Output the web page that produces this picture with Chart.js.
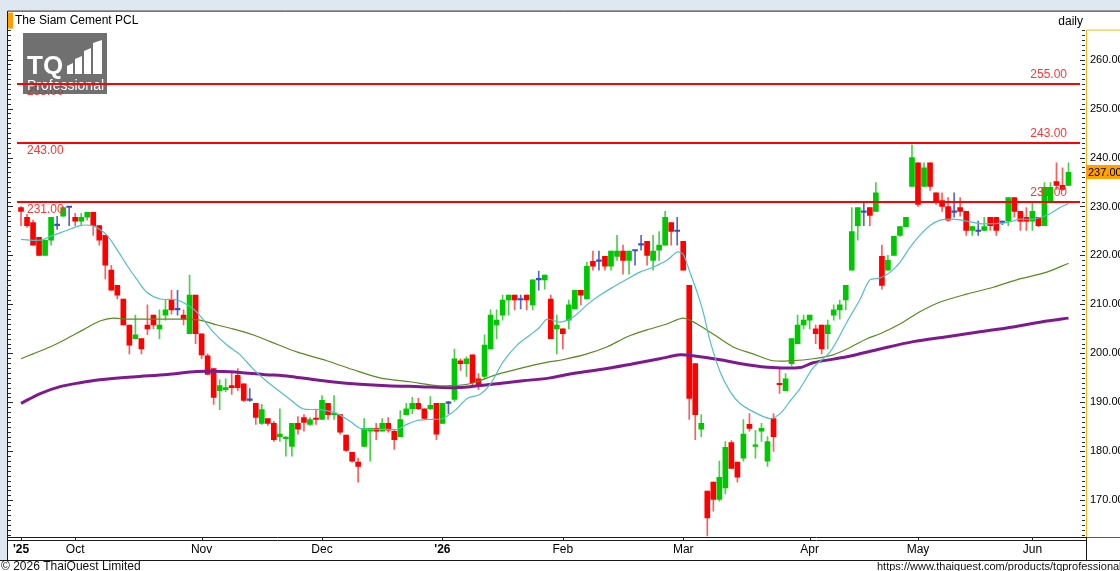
<!DOCTYPE html>
<html>
<head>
<meta charset="utf-8">
<title>The Siam Cement PCL</title>
<script src="https://cdn.jsdelivr.net/npm/chart.js@4.4.1/dist/chart.umd.min.js"></script>
<style>
  html, body { margin: 0; padding: 0; background: #fff; overflow: hidden; }
  #box { width: 1120px; height: 571px; }
  canvas { display: block; }
</style>
</head>
<body>
<div id="box"><canvas id="priceChart" width="1120" height="571"></canvas></div>
<script>
// daily candles, one entry per trading day (index 0 = first bar on the left)
const opens = [
  229.8, 227.8, 226.7, 223.7, 220.0, 223.1, 226.1, 228.0, 229.8, 227.8,
  227.0, 227.8, 228.8, 226.1, 224.1, 217.0, 213.9, 211.1, 205.8, 203.0,
  203.0, 205.8, 207.8, 205.0, 207.8, 210.9, 208.9, 207.8, 204.0, 211.9,
  204.0, 199.5, 196.9, 192.4, 192.6, 193.4, 195.5, 193.8, 190.4, 189.8,
  185.7, 186.7, 185.7, 183.0, 182.6, 181.0, 185.7, 186.9, 185.5, 186.7,
  186.5, 189.8, 187.5, 187.5, 183.3, 179.8, 177.8, 181.0, 184.1, 184.7,
  184.1, 185.7, 184.1, 183.0, 187.5, 188.7, 189.8, 188.7, 188.7, 189.8,
  185.7, 189.8, 190.6, 198.5, 197.9, 199.7, 194.8, 195.3, 200.9, 205.8,
  207.8, 210.9, 211.9, 210.9, 211.9, 209.9, 215.0, 215.0, 211.1, 205.0,
  205.0, 206.8, 209.1, 212.9, 211.1, 218.8, 218.8, 219.8, 217.8, 219.8,
  220.9, 219.0, 220.9, 222.1, 222.9, 219.0, 221.1, 222.1, 226.7, 224.9,
  222.9, 213.9, 197.9, 184.5, 171.9, 173.7, 170.2, 172.5, 181.8, 177.8,
  178.6, 185.5, 181.0, 184.1, 178.0, 186.7, 193.8, 192.4, 197.9, 202.0,
  205.8, 206.8, 205.0, 205.8, 204.0, 207.8, 208.9, 210.9, 217.0, 226.1,
  228.8, 229.8, 229.0, 219.8, 217.0, 220.0, 224.1, 225.9, 234.1, 238.9,
  234.1, 238.9, 232.8, 231.2, 230.0, 228.8, 229.8, 229.0, 225.1, 224.9,
  225.1, 227.8, 227.8, 226.7, 227.0, 231.8, 229.0, 227.8, 227.0, 227.8,
  226.1, 231.2, 235.1, 234.3, 234.3
];
const highs = [
  230.0, 228.4, 227.2, 223.7, 223.1, 227.8, 228.0, 230.0, 230.0, 228.6,
  228.6, 228.8, 228.8, 226.1, 224.1, 218.0, 213.9, 211.1, 205.8, 207.8,
  203.0, 209.9, 207.8, 208.9, 210.9, 212.9, 212.9, 208.9, 216.0, 211.9,
  204.0, 199.9, 196.9, 194.6, 194.8, 195.9, 196.9, 193.8, 192.8, 189.8,
  189.6, 186.7, 186.1, 188.7, 183.0, 185.7, 187.1, 187.5, 186.9, 188.5,
  191.4, 189.8, 191.4, 187.5, 183.3, 179.8, 178.6, 186.7, 184.7, 185.7,
  186.7, 186.9, 184.5, 188.3, 189.8, 191.0, 190.8, 188.7, 191.2, 189.8,
  189.8, 190.2, 200.9, 198.9, 199.3, 199.7, 195.9, 203.8, 208.9, 208.9,
  211.9, 211.9, 211.9, 211.9, 211.9, 215.0, 216.8, 216.0, 211.9, 207.8,
  205.0, 210.9, 212.9, 212.9, 218.6, 220.9, 220.9, 219.8, 220.9, 224.1,
  222.1, 220.9, 220.9, 224.1, 222.9, 224.1, 224.9, 229.0, 226.7, 227.8,
  222.9, 213.9, 197.9, 187.5, 171.9, 173.7, 178.0, 182.0, 182.2, 177.8,
  186.5, 187.7, 184.3, 185.7, 183.0, 187.7, 196.9, 195.9, 203.0, 207.8,
  207.8, 207.8, 205.8, 205.8, 206.8, 209.9, 210.9, 213.9, 229.8, 229.8,
  230.8, 229.8, 234.9, 222.1, 220.0, 223.9, 225.9, 227.8, 242.6, 238.9,
  238.9, 238.9, 232.8, 232.8, 231.8, 232.8, 231.8, 229.0, 225.9, 227.0,
  227.8, 227.8, 227.8, 227.0, 231.8, 231.8, 229.0, 229.8, 230.8, 227.8,
  234.9, 234.9, 238.9, 237.9, 238.9
];
const lows = [
  226.1, 225.7, 222.1, 220.0, 220.0, 222.1, 225.3, 228.0, 226.1, 226.1,
  226.1, 227.2, 224.1, 222.1, 215.2, 212.9, 211.1, 205.8, 199.9, 203.0,
  199.9, 203.8, 205.0, 203.0, 206.8, 208.0, 207.8, 205.8, 204.0, 202.0,
  198.9, 195.7, 189.6, 188.5, 192.2, 191.6, 192.4, 190.2, 190.2, 185.5,
  185.5, 185.3, 182.0, 182.0, 179.0, 179.0, 183.5, 184.1, 185.3, 185.5,
  186.5, 186.5, 186.5, 183.5, 180.0, 177.8, 173.7, 181.0, 178.0, 182.4,
  184.1, 183.9, 180.4, 183.0, 187.5, 187.7, 188.5, 186.5, 188.5, 182.4,
  185.7, 187.7, 190.2, 196.5, 195.3, 193.4, 192.6, 194.8, 200.9, 203.0,
  206.8, 207.8, 208.9, 209.1, 208.9, 208.9, 212.9, 213.1, 203.0, 199.9,
  200.9, 205.0, 209.1, 209.9, 211.1, 217.0, 217.0, 217.0, 217.0, 219.0,
  216.2, 216.2, 218.0, 221.1, 218.0, 217.0, 219.0, 222.1, 222.1, 222.1,
  217.0, 186.5, 182.4, 183.0, 162.7, 167.8, 169.8, 171.3, 176.5, 173.7,
  178.0, 184.1, 178.6, 182.0, 176.9, 180.0, 191.8, 192.4, 197.5, 202.0,
  205.0, 205.0, 202.0, 199.9, 200.9, 206.8, 207.0, 208.9, 217.0, 223.1,
  226.1, 226.1, 229.0, 213.1, 217.0, 220.0, 223.9, 225.9, 234.1, 230.0,
  234.1, 233.3, 230.4, 229.0, 227.0, 227.8, 228.0, 224.1, 224.1, 224.1,
  225.1, 225.1, 224.1, 226.3, 226.1, 227.8, 225.1, 225.1, 225.1, 225.9,
  226.1, 231.2, 233.5, 233.3, 234.3
];
const closes = [
  229.0, 226.1, 222.1, 220.0, 223.1, 227.8, 226.1, 229.8, 229.8, 227.0,
  227.8, 228.8, 226.1, 223.1, 218.0, 212.9, 211.9, 205.8, 201.7, 203.8,
  200.9, 205.0, 205.8, 205.8, 208.9, 208.9, 208.9, 207.0, 211.9, 204.0,
  199.7, 195.7, 191.0, 193.4, 193.0, 193.0, 193.0, 190.4, 190.4, 186.9,
  188.5, 185.7, 182.4, 183.5, 182.8, 185.7, 184.5, 185.9, 186.5, 186.5,
  190.4, 187.5, 187.7, 183.9, 180.2, 178.0, 176.9, 184.7, 184.7, 184.1,
  185.7, 184.3, 182.4, 186.5, 188.7, 189.8, 188.7, 186.7, 189.4, 183.5,
  189.8, 189.8, 198.9, 197.9, 198.9, 194.0, 193.6, 201.7, 207.8, 206.8,
  210.9, 211.9, 210.9, 210.9, 210.9, 215.0, 215.0, 216.0, 203.0, 205.8,
  204.0, 209.9, 212.9, 211.9, 217.8, 217.8, 218.8, 217.8, 220.9, 220.9,
  219.0, 220.9, 220.9, 222.1, 220.0, 220.9, 222.1, 227.8, 224.9, 224.9,
  217.0, 190.8, 187.5, 185.7, 166.4, 170.2, 174.7, 180.8, 176.5, 174.7,
  183.5, 184.7, 181.2, 184.7, 182.0, 183.0, 193.6, 194.8, 203.0, 205.8,
  206.8, 207.8, 204.0, 200.9, 205.8, 208.9, 209.9, 213.9, 224.9, 229.8,
  228.8, 228.2, 232.8, 213.9, 219.0, 223.9, 225.9, 227.8, 240.0, 230.4,
  237.9, 234.1, 231.2, 230.0, 227.2, 228.8, 229.0, 225.1, 225.9, 224.9,
  225.9, 226.1, 225.1, 226.7, 231.8, 229.0, 227.0, 227.0, 229.0, 226.1,
  233.9, 233.9, 234.3, 233.5, 237.0
];

// month labels on the time axis, placed on the bar index where each month starts
const monthTickIdx = [0, 9, 30, 50, 70, 90, 110, 131, 149, 168];
const monthTickLabels = ["'25", 'Oct', 'Nov', 'Dec', "'26", 'Feb', 'Mar', 'Apr', 'May', 'Jun'];

// horizontal price levels and last price
const levelValues = [255, 243, 231];
const lastPrice = 237;

// moving averages (bar index, price)
const maShortIdx = [0, 3.2, 5.3, 7.6, 9.8, 11.8, 13.1, 14.3, 15.9, 17.6, 19.3, 20.9, 23.1, 25.9, 28.6, 30.2, 31.9, 34.2, 36.4, 38.5,
  40.9, 43.0, 44.7, 46.8, 49.7, 52.5, 54.7, 56.3, 58.0, 60.1, 62.5, 64.1, 65.8, 67.9, 70.1, 72.4, 74.1, 76.2, 77.9, 80.1,
  82.4, 84.6, 86.2, 87.4, 89.5, 91.7, 94.0, 96.2, 98.3, 100.7, 102.8, 105.0, 107.3, 109.0, 110.0, 111.1, 112.3, 113.3, 114.5, 116.1,
  117.8, 119.4, 121.6, 124.4, 126.1, 127.7, 129.4, 131.6, 134.4, 137.2, 139.4, 141.0, 142.7, 144.4, 146.0, 147.7, 149.3, 151.0, 152.7, 154.8,
  157.1, 159.3, 161.5, 163.8, 165.9, 168.1, 170.4, 172.6, 174.0];
const maShortVal = [223.3, 223.1, 224.1, 225.1, 226.1, 226.1, 225.3, 224.1, 221.3, 218.0, 215.0, 212.5, 211.1, 210.9, 209.1, 207.0, 204.4, 201.7, 199.7, 196.9,
  194.2, 192.2, 190.6, 188.7, 188.5, 187.7, 186.1, 184.7, 184.5, 184.5, 184.5, 185.5, 186.3, 186.5, 186.7, 188.7, 190.8, 191.6, 193.6, 198.3,
  201.7, 203.8, 205.4, 207.0, 206.4, 207.4, 209.9, 211.9, 213.5, 215.2, 216.6, 217.6, 219.0, 220.7, 220.2, 216.6, 212.5, 208.5, 202.4, 196.3,
  192.2, 189.8, 188.1, 186.7, 187.7, 190.2, 192.8, 197.1, 200.3, 206.4, 211.1, 215.0, 215.4, 216.6, 218.6, 221.7, 224.1, 226.1, 227.2, 227.4,
  227.0, 226.5, 226.5, 226.7, 227.4, 227.4, 228.2, 229.8, 230.6];
const maMidIdx = [0, 2.0, 4.8, 7.6, 10.3, 13.1, 15.3, 17.6, 20.9, 24.3, 27.6, 29.7, 32.6, 35.2, 38.5, 41.4, 45.8, 50.8, 55.1, 59.6,
  64.6, 69.1, 71.3, 74.6, 79.1, 83.4, 87.9, 90.0, 94.0, 97.3, 100.7, 104.0, 107.3, 110.0, 112.3, 114.9, 118.3, 121.6, 124.9, 128.2,
  131.6, 134.9, 137.2, 140.5, 142.7, 146.0, 149.3, 152.7, 157.1, 161.5, 165.9, 170.4, 174.0];
const maMidVal = [198.9, 199.9, 201.3, 203.0, 204.8, 206.6, 207.2, 207.0, 207.0, 207.0, 207.0, 206.8, 205.8, 205.0, 203.8, 202.4, 200.3, 198.5, 196.7, 195.0,
  194.2, 193.4, 193.4, 193.8, 195.7, 197.1, 198.3, 198.7, 199.9, 201.3, 203.4, 204.8, 206.0, 207.2, 206.0, 204.0, 201.3, 199.9, 198.5, 198.5,
  198.9, 199.7, 200.9, 203.0, 204.0, 206.0, 208.5, 210.5, 212.1, 213.5, 215.2, 216.6, 218.4];
const maLongIdx = [0, 3.2, 6.5, 9.8, 13.1, 18.6, 24.3, 29.2, 33.6, 36.4, 40.2, 44.7, 50.2, 55.1, 60.8, 66.3, 71.3, 74.6, 79.1, 83.4,
  87.9, 91.7, 97.3, 101.7, 106.1, 109.5, 111.6, 116.1, 120.6, 124.9, 129.4, 131.6, 137.2, 142.7, 148.2, 153.8, 159.3, 164.8, 170.4, 174.0];
const maLongVal = [189.8, 191.8, 193.2, 194.0, 194.6, 195.2, 195.7, 196.3, 196.3, 196.1, 195.7, 195.3, 194.4, 193.8, 193.4, 193.2, 193.0, 193.2, 193.8, 194.4,
  195.0, 195.9, 196.9, 197.9, 198.9, 199.7, 199.5, 198.7, 197.7, 197.1, 197.1, 198.1, 199.3, 200.9, 202.4, 203.4, 204.4, 205.4, 206.6, 207.2];

const FONT = '"Liberation Sans", Arial, sans-serif';

function candleColor(i, wick) {
  if (closes[i] > opens[i]) return wick ? '#4cd04c' : '#00c800';
  if (closes[i] < opens[i]) return wick ? '#ff5c5c' : '#ff0000';
  return wick ? '#5566cc' : '#3a4cc4';
}

const days = opens.map((_, i) => i);
const wickData = days.map(i => ({ x: i, y: [lows[i], highs[i]] }));
const bodyData = days.map(i => ({ x: i, y: [Math.min(opens[i], closes[i]), Math.max(opens[i], closes[i])] }));
const toPoints = (xs, ys) => xs.map((x, k) => ({ x: x, y: ys[k] }));

function drawLogo(ctx) {
  ctx.save();
  ctx.globalAlpha = 0.86;
  ctx.fillStyle = '#595959';
  ctx.fillRect(23, 33, 84, 61);
  ctx.globalAlpha = 1;
  ctx.fillStyle = '#ffffff';
  ctx.textBaseline = 'alphabetic';
  ctx.textAlign = 'left';
  ctx.font = 'bold 26px ' + FONT;
  ctx.fillText('TQ', 27, 74);
  // rising bars of the logo
  [[67, 63, 6], [75, 56, 7], [84, 48, 7], [93, 40, 9]].forEach(([bx, top, w]) => {
    ctx.beginPath();
    ctx.moveTo(bx, 74);
    ctx.lineTo(bx, top + 3);
    ctx.lineTo(bx + w, top);
    ctx.lineTo(bx + w, 74);
    ctx.closePath();
    ctx.fill();
  });
  ctx.font = '14px ' + FONT;
  ctx.fillText('Professional', 27, 90);
  ctx.restore();
}

const chartChrome = {
  id: 'chartChrome',
  beforeDraw(chart) {
    const { ctx, chartArea: a, width, height } = chart;
    ctx.save();
    ctx.fillStyle = '#ffffff';
    ctx.fillRect(0, 0, width, height);
    ctx.fillStyle = '#dfe7f0';
    ctx.fillRect(0, 0, width, a.top - 1);
    ctx.fillRect(0, 0, a.left - 1, a.bottom + 23);
    ctx.restore();
  },
  afterDatasetsDraw(chart) {
    const { ctx, chartArea: a } = chart;
    const y = chart.scales.y;
    ctx.save();
    ctx.font = '12px ' + FONT;
    ctx.textBaseline = 'middle';
    ctx.fillStyle = '#ff3434';
    ctx.textAlign = 'left';
    levelValues.forEach(v => ctx.fillText(v.toFixed(2), a.left + 19, y.getPixelForValue(v) + 8));
    drawLogo(ctx);
    ctx.strokeStyle = '#ff0000';
    ctx.lineWidth = 2;
    levelValues.forEach(v => {
      const py = Math.round(y.getPixelForValue(v));
      ctx.beginPath();
      ctx.moveTo(a.left + 9, py);
      ctx.lineTo(a.right - 5, py);
      ctx.stroke();
    });
    ctx.fillStyle = '#ff3434';
    ctx.textAlign = 'right';
    levelValues.forEach(v => ctx.fillText(v.toFixed(2), a.right - 18, y.getPixelForValue(v) - 9));
    ctx.restore();
  },
  afterDraw(chart) {
    const { ctx, chartArea: a, width } = chart;
    const x = chart.scales.x, y = chart.scales.y;
    ctx.save();
    ctx.lineWidth = 1;

    // frame and axis lines
    ctx.strokeStyle = '#1a1a1a';
    ctx.beginPath();
    ctx.moveTo(a.left - 0.5, a.top - 0.5); ctx.lineTo(width, a.top - 0.5);
    ctx.moveTo(a.left - 0.5, a.top - 0.5); ctx.lineTo(a.left - 0.5, a.bottom + 23);
    ctx.moveTo(a.left, a.bottom + 0.5); ctx.lineTo(a.right + 1, a.bottom + 0.5);
    ctx.moveTo(a.left, a.bottom + 3.5); ctx.lineTo(a.right + 1, a.bottom + 3.5);
    ctx.moveTo(0, a.bottom + 23.5); ctx.lineTo(width, a.bottom + 23.5);
    ctx.moveTo(a.right + 1.5, a.bottom); ctx.lineTo(a.right + 1.5, a.bottom + 23);
    ctx.stroke();

    // small price ticks on both sides, month ticks at the bottom
    ctx.strokeStyle = '#2a2a2a';
    ctx.beginPath();
    for (let v = Math.ceil(y.min); v <= Math.floor(y.max); v++) {
      const py = Math.round(y.getPixelForValue(v)) + 0.5;
      if (py < a.top + 18) continue;
      const len = v % 10 === 0 ? 5 : 3;
      ctx.moveTo(a.right - len, py); ctx.lineTo(a.right, py);
      ctx.moveTo(a.left, py); ctx.lineTo(a.left + len, py);
    }
    monthTickIdx.forEach(i => {
      const px = Math.round(x.getPixelForValue(i)) + 0.5;
      ctx.moveTo(px, a.bottom); ctx.lineTo(px, a.bottom + 4);
    });
    ctx.stroke();

    // yellow border of the price scale
    ctx.strokeStyle = '#f0b820';
    ctx.beginPath();
    ctx.moveTo(a.right + 1.5, a.top + 18.5); ctx.lineTo(width, a.top + 18.5);
    ctx.moveTo(a.right + 1.5, a.top + 18.5); ctx.lineTo(a.right + 1.5, a.bottom);
    ctx.stroke();
    ctx.strokeStyle = '#2a5bd7';
    ctx.beginPath();
    ctx.moveTo(a.right + 2, a.bottom + 0.5); ctx.lineTo(width, a.bottom + 0.5);
    ctx.stroke();

    // title row
    ctx.fillStyle = '#ffa000';
    ctx.fillRect(a.left, a.top + 1, 5, 16);
    ctx.fillStyle = '#000000';
    ctx.font = '12px ' + FONT;
    ctx.textBaseline = 'middle';
    ctx.textAlign = 'left';
    ctx.fillText('The Siam Cement PCL', a.left + 7, a.top + 9.5);
    ctx.textAlign = 'right';
    ctx.fillText('daily', a.right - 2, a.top + 10);

    // last price tag
    const ty = Math.round(y.getPixelForValue(lastPrice));
    ctx.fillStyle = '#ffa200';
    ctx.fillRect(a.right + 1, ty - 7, width - a.right, 14);
    ctx.fillStyle = '#000000';
    ctx.font = '11px ' + FONT;
    ctx.textAlign = 'left';
    ctx.fillText(lastPrice.toFixed(2), a.right + 3, ty + 0.5);

    // footer
    ctx.font = '12px ' + FONT;
    ctx.fillStyle = '#111111';
    ctx.fillText('\u00a9 2026 ThaiQuest Limited', 1, a.bottom + 29.5);
    ctx.font = '11px ' + FONT;
    ctx.fillText('https://www.thaiquest.com/products/tqprofessional/', 877, a.bottom + 29.5);
    ctx.restore();
  }
};

new Chart(document.getElementById('priceChart'), {
  type: 'bar',
  data: {
    datasets: [
      {
        type: 'line', label: 'MA short', data: toPoints(maShortIdx, maShortVal),
        borderColor: '#52bfc8', borderWidth: 1.2, pointRadius: 0, tension: 0.3, order: 1
      },
      {
        type: 'line', label: 'MA mid', data: toPoints(maMidIdx, maMidVal),
        borderColor: '#5b8a1e', borderWidth: 1.2, pointRadius: 0, tension: 0.3, order: 1
      },
      {
        type: 'line', label: 'MA long', data: toPoints(maLongIdx, maLongVal),
        borderColor: '#7e1a8e', borderWidth: 3, pointRadius: 0, tension: 0.3, order: 1
      },
      {
        label: 'body', data: bodyData, grouped: false, barThickness: 5, minBarLength: 1.5,
        backgroundColor: ctx => candleColor(ctx.dataIndex, false), borderWidth: 0, order: 2
      },
      {
        label: 'wick', data: wickData, grouped: false, barThickness: 1,
        backgroundColor: ctx => candleColor(ctx.dataIndex, true), borderWidth: 0, order: 3
      }
    ]
  },
  options: {
    responsive: false,
    animation: false,
    events: [],
    layout: { padding: { left: 8, top: 8, right: 0, bottom: 11 } },
    plugins: { legend: { display: false }, tooltip: { enabled: false }, title: { display: false } },
    scales: {
      x: {
        type: 'linear',
        min: -2.16,
        max: 176.74,
        offset: false,
        grid: { display: false, drawTicks: false },
        border: { display: false },
        afterBuildTicks: scale => { scale.ticks = monthTickIdx.map(v => ({ value: v })); },
        afterFit: scale => { scale.height = 23; },
        ticks: {
          autoSkip: false,
          maxRotation: 0,
          minRotation: 0,
          padding: 5,
          color: '#000000',
          font: ctx => ({
            family: FONT,
            size: 12,
            weight: monthTickLabels[monthTickIdx.indexOf(ctx.tick ? ctx.tick.value : -1)] &&
              monthTickLabels[monthTickIdx.indexOf(ctx.tick.value)].startsWith("'") ? 'bold' : 'normal'
          }),
          callback: value => {
            const k = monthTickIdx.indexOf(value);
            return k >= 0 ? monthTickLabels[k] : '';
          }
        }
      },
      y: {
        type: 'linear',
        position: 'right',
        min: 162.5,
        max: 269.8,
        grid: { display: false, drawTicks: false },
        border: { display: false },
        afterFit: scale => { scale.width = 35; },
        ticks: {
          stepSize: 10,
          includeBounds: false,
          padding: 5,
          color: '#000000',
          font: { family: FONT, size: 11 },
          callback: value => Number(value).toFixed(2)
        }
      }
    }
  },
  plugins: [chartChrome]
});
</script>
</body>
</html>
